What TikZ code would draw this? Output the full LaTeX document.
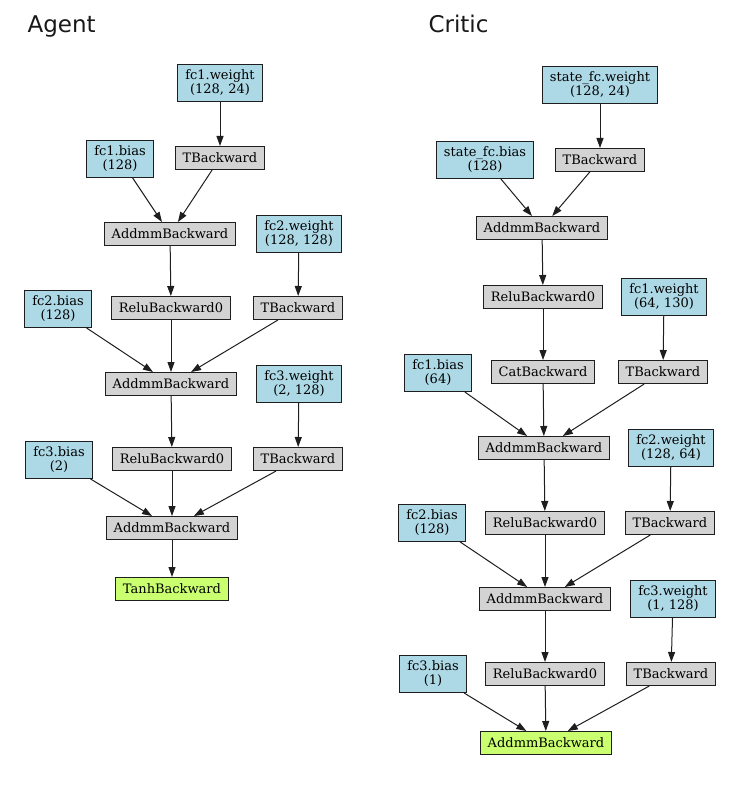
\documentclass[tikz,border=0pt]{standalone}
\usepackage{fontspec}
\setmainfont{DejaVu Serif}
\newfontfamily\titlefont{DejaVu Sans}
\usepackage{xcolor}
\usetikzlibrary{arrows.meta}
\definecolor{Param}{RGB}{173, 216, 230}
\definecolor{Grad}{RGB}{211, 211, 211}
\definecolor{Leaf}{RGB}{202, 255, 112}
\definecolor{Edge}{RGB}{30, 30, 30}

\tikzset{
    x=1pt, y=-1pt,
    box/.style={draw=Edge, line width=1pt, rectangle, align=center,
        inner xsep=7.5pt, inner ysep=5.5pt, minimum height=23pt,
        font=\fontsize{13pt}{14pt}\selectfont},
    param/.style={box, fill=Param},
    grad/.style={box, fill=Grad},
    leaf/.style={box, fill=Leaf},
    flow/.style={draw=Edge, line width=1pt, -{Triangle[length=10pt, width=7pt]}},
    title/.style={anchor=west, font=\titlefont\fontsize{23pt}{26pt}\selectfont, text=black!90}
}

\begin{document}
\begin{tikzpicture}
    \useasboundingbox (0,0) rectangle (750,786);

    % Agent
    \node[title] (agent) at (24,27) {Agent};
    \node[param] (aW1) at (220,83) {fc1.weight\\ (128, 24)};
    \node[param] (aB1) at (120,159) {fc1.bias\\ (128)};
    \node[grad] (aT1) at (220,158) {TBackward};
    \node[grad] (aAdd1) at (170,234) {AddmmBackward};
    \node[param] (aW2) at (299,234) {fc2.weight\\ (128, 128)};
    \node[param] (aB2) at (58,309) {fc2.bias\\ (128)};
    \node[grad] (aRelu1) at (171,308) {ReluBackward0};
    \node[grad] (aT2) at (298,308) {TBackward};
    \node[grad] (aAdd2) at (171,384) {AddmmBackward};
    \node[param] (aW3) at (299,384) {fc3.weight\\ (2, 128)};
    \node[param] (aB3) at (59,460) {fc3.bias\\ (2)};
    \node[grad] (aRelu2) at (172,459) {ReluBackward0};
    \node[grad] (aT3) at (298,459) {TBackward};
    \node[grad] (aAdd3) at (172,528) {AddmmBackward};
    \node[leaf] (aTanh) at (172,589) {TanhBackward};

    \draw[flow] (aW1) -- (aT1);
    \draw[flow] (aB1) -- (aAdd1);
    \draw[flow] (aT1) -- (aAdd1);
    \draw[flow] (aAdd1) -- (aRelu1);
    \draw[flow] (aW2) -- (aT2);
    \draw[flow] (aB2) -- (aAdd2);
    \draw[flow] (aRelu1) -- (aAdd2);
    \draw[flow] (aT2) -- (aAdd2);
    \draw[flow] (aAdd2) -- (aRelu2);
    \draw[flow] (aW3) -- (aT3);
    \draw[flow] (aB3) -- (aAdd3);
    \draw[flow] (aRelu2) -- (aAdd3);
    \draw[flow] (aT3) -- (aAdd3);
    \draw[flow] (aAdd3) -- (aTanh);

    % Critic
    \node[title] (critic) at (425,24) {Critic};
    \node[param] (cW0) at (600,85) {state\_fc.weight\\ (128, 24)};
    \node[param] (cB0) at (485,160) {state\_fc.bias\\ (128)};
    \node[grad] (cT0) at (600,160) {TBackward};
    \node[grad] (cAdd0) at (542,228) {AddmmBackward};
    \node[grad] (cRelu0) at (543,297) {ReluBackward0};
    \node[param] (cW1) at (664,297) {fc1.weight\\ (64, 130)};
    \node[param] (cB1) at (438,373) {fc1.bias\\ (64)};
    \node[grad] (cCat) at (543,372) {CatBackward};
    \node[grad] (cT1) at (663,372) {TBackward};
    \node[grad] (cAdd1) at (544,448) {AddmmBackward};
    \node[param] (cW2) at (671,448) {fc2.weight\\ (128, 64)};
    \node[param] (cB2) at (432,523) {fc2.bias\\ (128)};
    \node[grad] (cRelu1) at (545,523) {ReluBackward0};
    \node[grad] (cT2) at (670,523) {TBackward};
    \node[grad] (cAdd2) at (545,599) {AddmmBackward};
    \node[param] (cW3) at (673,599) {fc3.weight\\ (1, 128)};
    \node[param] (cB3) at (433,674) {fc3.bias\\ (1)};
    \node[grad] (cRelu2) at (545,674) {ReluBackward0};
    \node[grad] (cT3) at (671,674) {TBackward};
    \node[leaf] (cAdd3) at (546,743) {AddmmBackward};

    \draw[flow] (cW0) -- (cT0);
    \draw[flow] (cB0) -- (cAdd0);
    \draw[flow] (cT0) -- (cAdd0);
    \draw[flow] (cAdd0) -- (cRelu0);
    \draw[flow] (cRelu0) -- (cCat);
    \draw[flow] (cW1) -- (cT1);
    \draw[flow] (cB1) -- (cAdd1);
    \draw[flow] (cCat) -- (cAdd1);
    \draw[flow] (cT1) -- (cAdd1);
    \draw[flow] (cAdd1) -- (cRelu1);
    \draw[flow] (cW2) -- (cT2);
    \draw[flow] (cB2) -- (cAdd2);
    \draw[flow] (cRelu1) -- (cAdd2);
    \draw[flow] (cT2) -- (cAdd2);
    \draw[flow] (cAdd2) -- (cRelu2);
    \draw[flow] (cW3) -- (cT3);
    \draw[flow] (cB3) -- (cAdd3);
    \draw[flow] (cRelu2) -- (cAdd3);
    \draw[flow] (cT3) -- (cAdd3);
\end{tikzpicture}
\end{document}
